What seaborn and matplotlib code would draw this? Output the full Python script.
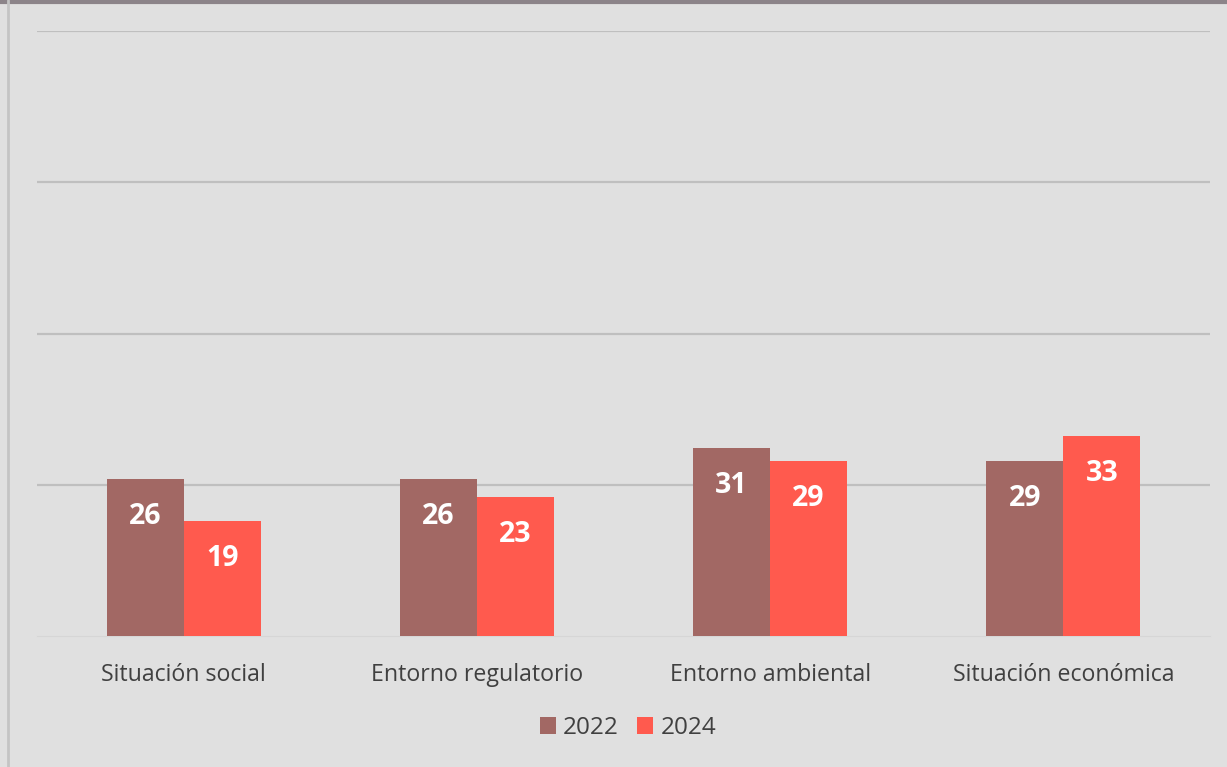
import numpy as np
import pandas as pd
import matplotlib.pyplot as plt
import seaborn as sns

categorias = ["Situación social", "Entorno regulatorio", "Entorno ambiental", "Situación económica"]
años = ["2022", "2024"]
valores_2022 = [26, 26, 31, 29]
valores_2024 = [19, 23, 29, 33]
colores = ["#a26864", "#ff5a4e"]

df = pd.DataFrame({
    "categoria": categorias * 2,
    "año": [años[0]] * 4 + [años[1]] * 4,
    "valor": valores_2022 + valores_2024,
})

sns.set_style("white")
plt.rcParams['font.family'] = ['Open Sans', 'DejaVu Sans']

bg = "#e0e0e0"
fig = plt.figure(figsize=(12.27, 7.67), dpi=100, facecolor=bg)
ax = fig.add_axes([37/1227, 1 - 636/767, (1210 - 37)/1227, (636 - 31)/767])
ax.set_facecolor(bg)

sns.barplot(data=df, x="categoria", y="valor", hue="año", palette=colores,
            width=0.525, saturation=1, ax=ax, legend=True, zorder=3, linewidth=0)

ax.set_ylim(0, 100)
ax.set_yticks([25, 50, 75, 100])
ax.yaxis.grid(True, color="#bfbfbf", linewidth=1.6, zorder=0)
ax.tick_params(axis="y", left=False, labelleft=False)
ax.tick_params(axis="x", bottom=False, labelsize=16.7, labelcolor="#404040", pad=16)
ax.set_xlabel("")
ax.set_ylabel("")
for s in ["left", "right", "top"]:
    ax.spines[s].set_visible(False)
ax.spines["bottom"].set_color("#d6d6d6")
ax.set_xlim(-0.5, 3.5)

for cont in ax.containers:
    for bar in cont:
        h = bar.get_height()
        ax.annotate(f"{h:.0f}", (bar.get_x() + bar.get_width() / 2, h),
                    xytext=(0, -27), textcoords="offset points",
                    ha="center", va="center", color="white",
                    fontsize=20.5, fontweight="bold", zorder=4)

ax.legend(loc="center", bbox_to_anchor=(628/1227, 1 - 728/767),
          bbox_transform=fig.transFigure, ncol=2, frameon=False,
          fontsize=17.5, labelcolor="#404040", handlelength=0.65, handleheight=0.65,
          handletextpad=0.3, columnspacing=0.75)

# marco exterior
fig.add_artist(plt.Line2D([0, 1], [1 - 1.5/767] * 2, color="#8c8489", linewidth=3,
                          transform=fig.transFigure))
fig.add_artist(plt.Line2D([7.5/1227] * 2, [0, 1], color="#c4c4c4", linewidth=2,
                          transform=fig.transFigure))

fig.savefig("out.png", dpi=100, facecolor=bg)
